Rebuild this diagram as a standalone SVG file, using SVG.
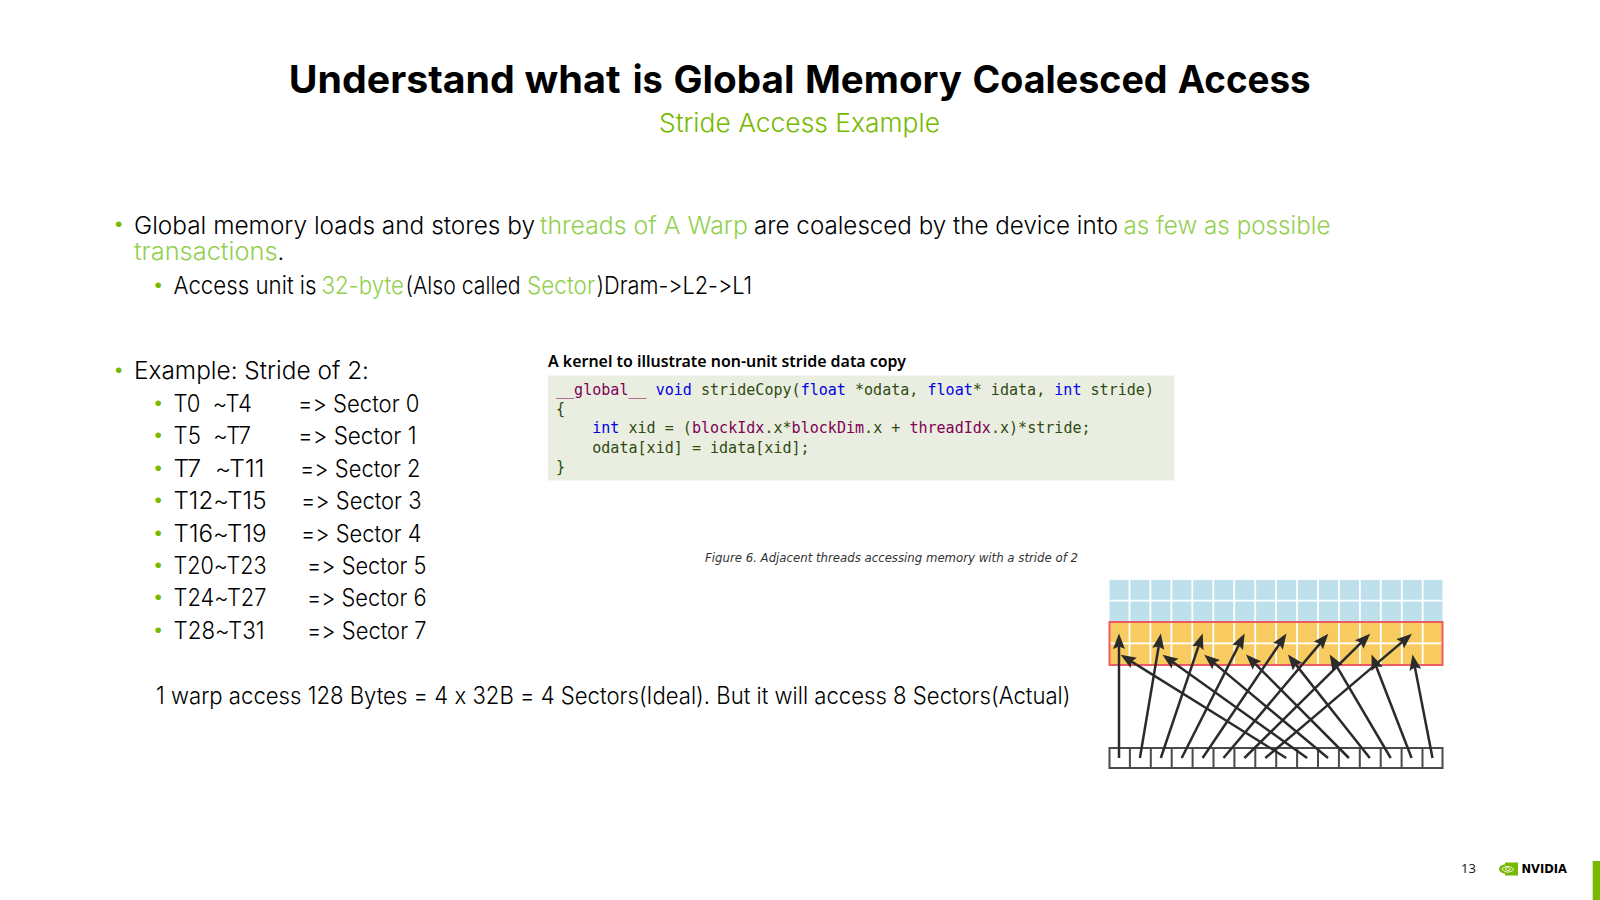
<svg xmlns="http://www.w3.org/2000/svg" width="1600" height="900" viewBox="0 0 1600 900">
<style>
text{white-space:pre;font-variant-ligatures:none;font-feature-settings:"calt" 0,"liga" 0,"ss01" 0}
.t{font-family:"Inter","Noto Sans",sans-serif;font-size:24px;font-weight:300;fill:#000}
.g{fill:#92D050}
.b{font-family:"Liberation Sans",sans-serif;font-size:21px;fill:#76B900}
.l{font-family:"Inter","Noto Sans",sans-serif;font-size:23.5px;font-weight:300;fill:#000}
.c{font-family:"DejaVu Sans Mono","Liberation Mono",monospace;font-size:15.05px;fill:#2E4A12}
.k{fill:#0000E6}
.m{fill:#7F0055}
.w{stroke:#fff;stroke-width:1.8;fill:none}
.a{stroke:#2B2B2B;stroke-width:2.5;fill:none;marker-end:url(#ah)}
.f{stroke:#4A4A4A;stroke-width:2;fill:none}
.h{font-family:Inter,'Noto Sans',sans-serif;font-size:38px;font-weight:700;fill:#000}
</style>
<defs>
<marker id="ah" markerUnits="userSpaceOnUse" markerWidth="16" markerHeight="13" refX="11" refY="6.5" orient="auto" viewBox="0 0 16 13">
<path d="M15.5,6.5 L0,0.5 L2.5,6.5 L0,12.5 Z" fill="#2B2B2B"/>
</marker>
</defs>
<rect width="1600" height="900" fill="#fff"/>
<g id="title">
<text class="h" y="93"><tspan x="288.8" textLength="226" lengthAdjust="spacingAndGlyphs">Understand</tspan> <tspan x="524.5" textLength="96" lengthAdjust="spacingAndGlyphs">what</tspan> <tspan x="632.7" textLength="30" lengthAdjust="spacingAndGlyphs">is</tspan> <tspan x="673.5" textLength="121" lengthAdjust="spacingAndGlyphs">Global</tspan> <tspan x="805" textLength="157" lengthAdjust="spacingAndGlyphs">Memory</tspan> <tspan x="972.5" textLength="195" lengthAdjust="spacingAndGlyphs">Coalesced</tspan> <tspan x="1177.7" textLength="133" lengthAdjust="spacingAndGlyphs">Access</tspan></text>
<text x="799.5" y="132" text-anchor="middle" textLength="281" lengthAdjust="spacingAndGlyphs" style="font-family:Inter,'Noto Sans',sans-serif;font-size:26px;font-weight:300;fill:#76B900">Stride Access Example</text>
</g>
<g id="intro">
<text class="b" x="115" y="231">•</text>
<text class="t" x="134" y="234" textLength="401" lengthAdjust="spacingAndGlyphs">Global memory loads and stores by</text>
<text class="t g" x="540" y="234" textLength="208" lengthAdjust="spacingAndGlyphs">threads of A Warp</text>
<text class="t" x="754" y="234" textLength="364" lengthAdjust="spacingAndGlyphs">are coalesced by the device into</text>
<text class="t g" x="1123.5" y="234" textLength="207" lengthAdjust="spacingAndGlyphs">as few as possible</text>
<text class="t g" x="134" y="260" textLength="143.5" lengthAdjust="spacingAndGlyphs">transactions</text>
<text class="t" x="277.5" y="260">.</text>
<text class="b" x="154.500" y="292">•</text>
<text class="t" x="173.5" y="294" textLength="143" lengthAdjust="spacingAndGlyphs">Access unit is</text>
<text class="t g" x="321.5" y="294" textLength="82.5" lengthAdjust="spacingAndGlyphs">32-byte</text>
<text class="t" x="405.5" y="294" textLength="115" lengthAdjust="spacingAndGlyphs">(Also called</text>
<text class="t g" x="527" y="294" textLength="68" lengthAdjust="spacingAndGlyphs">Sector</text>
<text class="t" x="596.5" y="294" textLength="155.5" lengthAdjust="spacingAndGlyphs">)Dram-&gt;L2-&gt;L1</text>
</g>
<g id="example">
<text class="b" x="115" y="377">•</text>
<text class="t" x="134" y="379" textLength="235" lengthAdjust="spacingAndGlyphs">Example: Stride of 2:</text>
<g id="sector-list">
<text class="b" x="154.500" y="410">•</text><text class="l" x="173.5" y="412" textLength="78.5" lengthAdjust="spacingAndGlyphs">T0  ~T4</text><text class="l" x="298" y="412" textLength="121.5" lengthAdjust="spacingAndGlyphs">=&gt; Sector 0</text>
<text class="b" x="154.500" y="442">•</text><text class="l" x="173.5" y="444" textLength="77.5" lengthAdjust="spacingAndGlyphs">T5  ~T7</text><text class="l" x="298" y="444" textLength="118.5" lengthAdjust="spacingAndGlyphs">=&gt; Sector 1</text>
<text class="b" x="154.500" y="475">•</text><text class="l" x="173.5" y="477" textLength="91" lengthAdjust="spacingAndGlyphs">T7  ~T11</text><text class="l" x="300" y="477" textLength="120.5" lengthAdjust="spacingAndGlyphs">=&gt; Sector 2</text>
<text class="b" x="154.500" y="507">•</text><text class="l" x="173.5" y="509" textLength="93" lengthAdjust="spacingAndGlyphs">T12~T15</text><text class="l" x="301" y="509" textLength="120.5" lengthAdjust="spacingAndGlyphs">=&gt; Sector 3</text>
<text class="b" x="154.500" y="540">•</text><text class="l" x="173.5" y="542" textLength="93" lengthAdjust="spacingAndGlyphs">T16~T19</text><text class="l" x="301" y="542" textLength="120.5" lengthAdjust="spacingAndGlyphs">=&gt; Sector 4</text>
<text class="b" x="154.500" y="572">•</text><text class="l" x="173.5" y="574" textLength="93" lengthAdjust="spacingAndGlyphs">T20~T23</text><text class="l" x="307" y="574" textLength="119.5" lengthAdjust="spacingAndGlyphs">=&gt; Sector 5</text>
<text class="b" x="154.500" y="604">•</text><text class="l" x="173.5" y="606" textLength="93" lengthAdjust="spacingAndGlyphs">T24~T27</text><text class="l" x="307" y="606" textLength="119.5" lengthAdjust="spacingAndGlyphs">=&gt; Sector 6</text>
<text class="b" x="154.500" y="637">•</text><text class="l" x="173.5" y="639" textLength="91" lengthAdjust="spacingAndGlyphs">T28~T31</text><text class="l" x="307" y="639" textLength="119.5" lengthAdjust="spacingAndGlyphs">=&gt; Sector 7</text>
</g>
<text class="l" x="156" y="704" textLength="914.5" lengthAdjust="spacingAndGlyphs">1 warp access 128 Bytes = 4 x 32B = 4 Sectors(Ideal). But it will access 8 Sectors(Actual)</text>
</g>
<g id="kernel">
<text x="548" y="367" textLength="358" lengthAdjust="spacingAndGlyphs" style="font-family:'Noto Sans',sans-serif;font-size:15.5px;font-weight:600;fill:#000">A kernel to illustrate non-unit stride data copy</text>
<rect x="548" y="375.5" width="626.5" height="105" fill="#EAEEE0"/>
<text class="c" x="556" y="394.500"><tspan class="m">__global__</tspan> <tspan class="k">void</tspan> strideCopy(<tspan class="k">float</tspan> *odata, <tspan class="k">float</tspan>* idata, <tspan class="k">int</tspan> stride)</text>
<text class="c" x="556" y="414">{</text>
<text class="c" x="556" y="433">    <tspan class="k">int</tspan> xid = (<tspan class="m">blockIdx</tspan>.x*<tspan class="m">blockDim</tspan>.x + <tspan class="m">threadIdx</tspan>.x)*stride;</text>
<text class="c" x="556" y="452.500">    odata[xid] = idata[xid];</text>
<text class="c" x="556" y="472">}</text>
</g>
<g id="figure">
<text x="705" y="562" textLength="373" lengthAdjust="spacingAndGlyphs" style="font-family:'DejaVu Sans',sans-serif;font-size:12px;font-style:italic;fill:#333">Figure 6. Adjacent threads accessing memory with a stride of 2</text>
<rect x="1109.5" y="580" width="333" height="42" fill="#BDE0EC"/>
<rect x="1109.5" y="622" width="333" height="43" fill="#F7CB60"/>
<path class="w" d="M1109.5,600.7H1442.5M1109.5,643.3H1442.5M1129.5,580V665M1150.4,580V665M1171.4,580V665M1192.3,580V665M1213.3,580V665M1234.2,580V665M1255.2,580V665M1276.1,580V665M1297,580V665M1318,580V665M1338.9,580V665M1359.9,580V665M1380.8,580V665M1401.8,580V665M1422.7,580V665"/>
<rect x="1109.5" y="622" width="333" height="43" fill="none" stroke="#EE5A64" stroke-width="2"/>
<path class="f" d="M1109.5,748H1442.5V768H1109.5ZM1129.9,748V768M1150.8,748V768M1171.7,748V768M1192.6,748V768M1213.5,748V768M1234.4,748V768M1255.3,748V768M1276.2,748V768M1297.1,748V768M1318,748V768M1338.9,748V768M1359.8,748V768M1380.7,748V768M1401.6,748V768M1422.5,748V768"/>
</g>
<g id="connectors">
<path class="a" d="M1119,758L1119,638"/>
<path class="a" d="M1139.9,758L1160.1,638"/>
<path class="a" d="M1160.8,758L1201.3,637.8"/>
<path class="a" d="M1181.7,758L1242.6,637.6"/>
<path class="a" d="M1202.6,758L1284,637.3"/>
<path class="a" d="M1223.5,758L1325.4,637.1"/>
<path class="a" d="M1244.4,758L1367,636.8"/>
<path class="a" d="M1265.3,758L1408.5,636.6"/>
<path class="a" d="M1286.2,758L1124.4,657.1"/>
<path class="a" d="M1307.1,758L1166.1,657.3"/>
<path class="a" d="M1328,758L1207.7,657.6"/>
<path class="a" d="M1348.9,758L1249.2,657.8"/>
<path class="a" d="M1369.8,758L1290.7,658.1"/>
<path class="a" d="M1390.7,758L1332,658.4"/>
<path class="a" d="M1411.6,758L1373.2,658.7"/>
<path class="a" d="M1432.5,758L1413.3,659"/>
</g>
<g id="footer">
<text x="1461" y="873" style="font-family:'Noto Sans',sans-serif;font-size:13px;fill:#222">13</text>
<path d="M1505,862.5H1518V875.500H1505V873.800C1501,873 1499,871 1499,869C1499,866.800 1501,864.800 1505,864.200Z" fill="#76B900"/>
<path d="M1502,869C1505,865.500 1510,865.500 1514,869.500C1510,873 1505,873 1502,869ZM1505,869C1506.500,867 1509,867.500 1510.500,869.500C1509,871 1506.500,871 1505,869Z" fill="none" stroke="#fff" stroke-width="0.9"/>
<text x="1521.5" y="873" textLength="45.500" lengthAdjust="spacingAndGlyphs" style="font-family:'DejaVu Sans',sans-serif;font-size:11.500px;font-weight:700;fill:#000">NVIDIA</text>
<rect x="1592.7" y="861" width="7.3" height="39" fill="#76B900"/>
</g>
</svg>
